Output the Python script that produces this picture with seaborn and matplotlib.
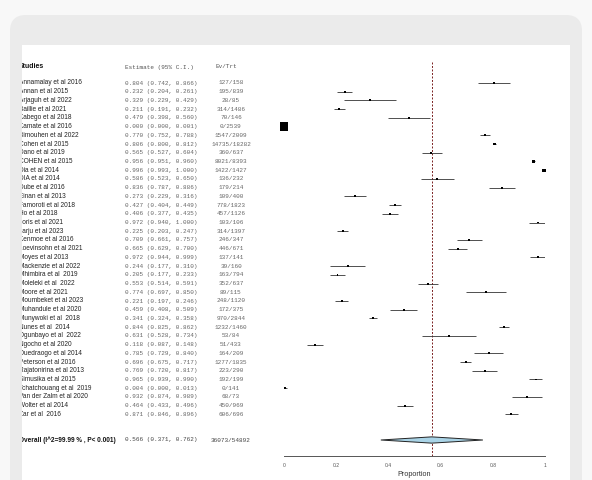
# forest plot of pooled proportion, single-study estimates with 95% CI

import numpy as np
import pandas as pd
import matplotlib
matplotlib.use("Agg")
import matplotlib.pyplot as plt
import seaborn as sns
from matplotlib.patches import FancyBboxPatch, Rectangle, Polygon
from matplotlib.transforms import blended_transform_factory, IdentityTransform, Bbox

# ── data ─────────────────────────────────────────────────────────────────────
studies = [
    "Annamalay et al 2016", "Annan et al 2015", "Arjaguh et al 2022", "Baillie et al 2021",
    "Kabego et al 2018", "Kamate et al 2016", "Bimouhen et al 2022", "Cohen et al 2015",
    "Dano et al 2019", "COHEN et al 2015", "Dia et al 2014", "DIA et al 2014",
    "Dube et al 2016", "Einan et al 2013", "Famoroti et al 2018", "Ho et al 2018",
    "Joris et al 2021", "Jarju et al 2023", "Kenmoe et al 2016", "Loevinsohn et al 2021",
    "Moyes et al 2013", "Mackenzie et al 2022", "Mhimbira et al  2019", "Moleleki et al  2022",
    "Moore et al 2021", "Moumbeket et al 2023", "Muhandule et al 2020", "Munywoki et al  2018",
    "Nunes et al  2014", "Ogunbayo et al  2022", "Ngocho et al 2020", "Ouedraogo et al 2014",
    "Peterson et al 2016", "Rajatonirina et al 2013", "Simusika et al 2015",
    "Tchatchouang et al  2019", "Van der Zalm et al 2020", "Wolter et al 2014", "Zar et al  2016",
]
estimates = [
    0.804, 0.232, 0.329, 0.211, 0.479, 0.000, 0.770, 0.806, 0.565, 0.956, 0.996, 0.586,
    0.836, 0.273, 0.427, 0.406, 0.972, 0.225, 0.709, 0.665, 0.972, 0.244, 0.205, 0.553,
    0.774, 0.221, 0.459, 0.341, 0.844, 0.631, 0.118, 0.785, 0.696, 0.769, 0.965, 0.004,
    0.932, 0.464, 0.871,
]
ci_low = [
    0.742, 0.204, 0.229, 0.191, 0.398, 0.000, 0.752, 0.800, 0.527, 0.951, 0.993, 0.523,
    0.787, 0.229, 0.404, 0.377, 0.940, 0.203, 0.661, 0.629, 0.944, 0.177, 0.177, 0.514,
    0.697, 0.197, 0.408, 0.324, 0.825, 0.528, 0.087, 0.729, 0.675, 0.720, 0.939, 0.000,
    0.874, 0.433, 0.846,
]
ci_high = [
    0.866, 0.261, 0.429, 0.232, 0.560, 0.001, 0.788, 0.812, 0.604, 0.960, 1.000, 0.650,
    0.886, 0.316, 0.449, 0.435, 1.000, 0.247, 0.757, 0.700, 0.999, 0.310, 0.233, 0.591,
    0.850, 0.246, 0.509, 0.358, 0.862, 0.734, 0.148, 0.840, 0.717, 0.817, 0.990, 0.013,
    0.989, 0.496, 0.896,
]
events = [
    127, 195, 28, 314, 70, 0, 1547, 14735, 360, 8021, 1422, 136, 179, 109, 778, 457,
    103, 314, 246, 446, 137, 39, 163, 352, 89, 248, 172, 970, 1232, 53, 51, 164, 1277,
    223, 192, 0, 68, 450, 606,
]
totals = [
    158, 839, 85, 1486, 146, 2539, 2009, 18282, 637, 8393, 1427, 232, 214, 400, 1823,
    1126, 106, 1397, 347, 671, 141, 160, 794, 637, 115, 1120, 375, 2844, 1460, 84, 433,
    209, 1835, 290, 199, 141, 73, 969, 696,
]

overall_label = "Overall (I^2=99.99 % , P< 0.001)"
overall_est = 0.566
overall_ci = (0.371, 0.762)
overall_events = 36073
overall_total = 54892

x_ticks = [0, 0.2, 0.4, 0.6, 0.8, 1]
x_tick_labels = ["0", "0.2", "0.4", "0.6", "0.8", "1"]

df = pd.DataFrame({
    "study": studies, "est": estimates, "lo": ci_low, "hi": ci_high,
    "ev": events, "n": totals,
})
df["row"] = np.arange(len(df))

# marker size from inverse-variance weight (se from CI width)
se = ((df["hi"] - df["lo"]) / 3.92).clip(lower=1e-4)
w = 1 / se**2
side = np.maximum(1.4, 6.4 * (w / w.max()) ** 0.25)
df["area"] = side**2

# ── layout (pixel geometry of the 592x480 canvas) ───────────────────────────
W, H = 592, 480
row0_px, row_step = 83, 8.72       # first study row / spacing
axis_px = 456                      # x axis line
panel_top = 45
card_top = 15

def px_to_row(y):
    return (y - row0_px) / row_step

sns.set_theme(style="white")
plt.rcParams["font.family"] = ["Liberation Sans", "DejaVu Sans"]

fig = plt.figure(figsize=(W / 100, H / 100), dpi=100, facecolor="#f8f8f8")

# grey rounded card + white panel
fig.add_artist(FancyBboxPatch((10, -40), 572, H - card_top + 40,
                              boxstyle="round,pad=0,rounding_size=16",
                              transform=IdentityTransform(), facecolor="#ebebeb",
                              edgecolor="none", zorder=0))
fig.add_artist(Rectangle((22, 0), 548, H - panel_top, transform=IdentityTransform(),
                         facecolor="white", edgecolor="none", zorder=0))

ax = fig.add_axes([284 / W, (H - axis_px) / H, (545 - 284) / W, (axis_px - panel_top) / H])
ax.set_facecolor("none")
ax.set_xlim(0, 1)
ax.set_ylim(px_to_row(axis_px), px_to_row(panel_top))

# confidence intervals
ax.hlines(df["row"], df["lo"], df["hi"], color="#333333", lw=0.6, zorder=2)
sns.scatterplot(data=df, x="est", y="row", marker="s", color="black", s=df["area"],
                linewidth=0, legend=False, ax=ax, zorder=3, clip_on=False)

# pooled estimate diamond
ov_row = px_to_row(440)
lo, hi = overall_ci
ax.add_patch(Polygon([(lo, ov_row), (overall_est, ov_row - 0.36), (hi, ov_row),
                      (overall_est, ov_row + 0.36)], closed=True,
                     facecolor="#a9d3e6", edgecolor="#222222", lw=0.7, zorder=3))

# reference line at pooled estimate
ax.vlines(overall_est, px_to_row(62), px_to_row(axis_px), color="#7a2020", lw=0.7,
          linestyles=(0, (2, 1.6)), zorder=1)

# axis styling
for s in ["top", "right", "left"]:
    ax.spines[s].set_visible(False)
ax.spines["bottom"].set_color("#555555")
ax.spines["bottom"].set_linewidth(0.7)
ax.set_xticks(x_ticks)
ax.set_xticklabels(x_tick_labels)
ax.set_yticks([])
ax.tick_params(axis="x", direction="in", length=2.5, width=0.6, color="#555555",
               labelsize=3.6, labelcolor="#555555", pad=5)
ax.set_xlabel("Proportion", fontsize=5.2, color="#333333", labelpad=2)
ax.set_ylabel("")

# ── text table on the left ───────────────────────────────────────────────────
tr = blended_transform_factory(IdentityTransform(), ax.transData)
clip = Bbox.from_extents(22, 0, 570, H - panel_top)
mono = "Liberation Mono"

def put(x, y, s, **kw):
    t = ax.text(x, y, s, transform=tr, va="center", clip_on=True, **kw)
    t.set_clip_box(clip)
    return t

hdr = px_to_row(67)
put(19, hdr, "Studies", fontsize=5, fontweight="bold", color="#111111")
put(125, hdr, "Estimate (95% C.I.)", fontsize=4.3, family=mono, color="#555555")
put(216, hdr, "Ev/Trt", fontsize=4.3, family=mono, color="#555555")

for _, r in df.iterrows():
    put(19, r["row"], r["study"], fontsize=4.7, color="#222222")
    put(125, r["row"], f"{r['est']:.3f} ({r['lo']:.3f}, {r['hi']:.3f})",
        fontsize=4.3, family=mono, color="#666666")
    put(231, r["row"], f"{r['ev']}/{r['n']}", fontsize=4.3, family=mono,
        color="#666666", ha="center")

put(19, ov_row, overall_label, fontsize=4.7, fontweight="bold", color="#111111")
put(125, ov_row, f"{overall_est:.3f} ({lo:.3f}, {hi:.3f})", fontsize=4.3,
    family=mono, color="#444444")
put(231, ov_row, f"{overall_events}/{overall_total}", fontsize=4.3, family=mono,
    color="#444444", ha="center")

fig.savefig("out.png", dpi=100, facecolor=fig.get_facecolor())
